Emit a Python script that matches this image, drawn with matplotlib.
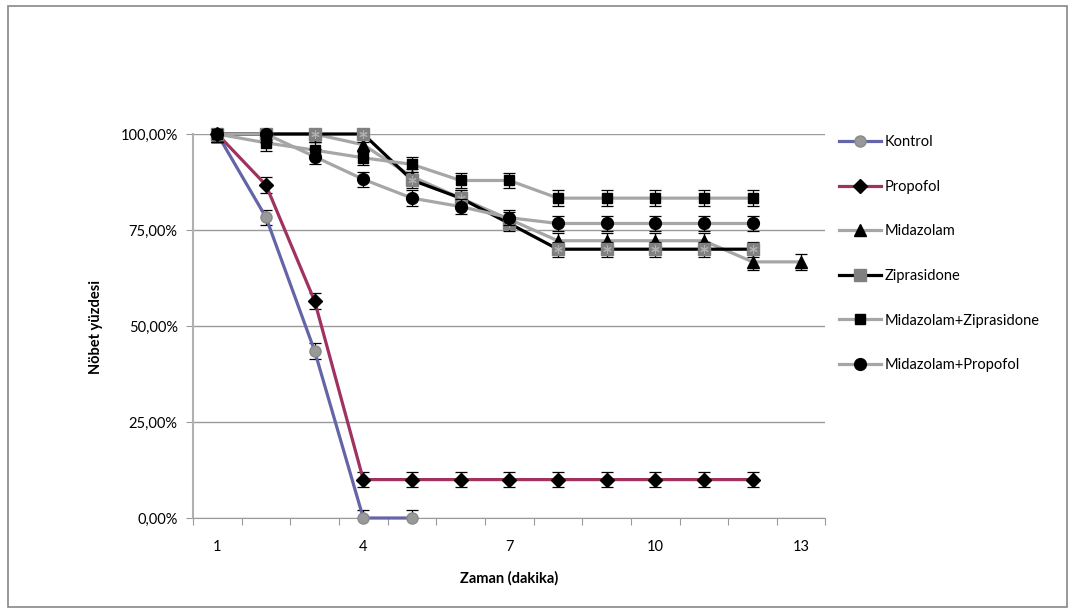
import numpy as np
import matplotlib
matplotlib.use('Agg')
import matplotlib.pyplot as plt
from matplotlib.patches import Rectangle

plt.rcParams['font.family'] = ['Lato', 'DejaVu Sans']

# time points (dakika)
minutes = np.arange(1, 14)

# seizure percentage per group
kontrol = [100, 78.3, 43.5, 0, 0]
propofol = [100, 86.7, 56.5, 10, 10, 10, 10, 10, 10, 10, 10, 10]
midazolam = [100, 100, 100, 97.2, 88.9, 83.3, 77.8, 72.2, 72.2, 72.2, 72.2, 66.7, 66.7]
ziprasidone = [100, 100, 100, 100, 88.0, 83.3, 76.7, 70, 70, 70, 70, 70]
mid_zip = [100, 97.7, 95.8, 93.8, 92.1, 87.9, 87.9, 83.3, 83.3, 83.3, 83.3, 83.3]
mid_prop = [100, 100, 94.1, 88.2, 83.3, 81.1, 78.2, 76.7, 76.7, 76.7, 76.7, 76.7]
err = 2.0

names = ["Kontrol", "Propofol", "Midazolam", "Ziprasidone",
         "Midazolam+Ziprasidone", "Midazolam+Propofol"]
y_ticks = [0, 25, 50, 75, 100]
y_ticklabels = ["0,00%", "25,00%", "50,00%", "75,00%", "100,00%"]
x_labels = [1, 4, 7, 10, 13]

fig = plt.figure(figsize=(10.75, 6.15), dpi=100)
ax = fig.add_axes([193 / 1075, 1 - 518 / 615, (825.5 - 193) / 1075, (518 - 134) / 615])

# outer chart border
fig.patches.append(Rectangle((8 / 1075, 1 - 607 / 615), 1059 / 1075, 601 / 615,
                             transform=fig.transFigure, fill=False,
                             edgecolor="#888888", lw=1.2))

styles = [
    dict(color="#6464A8", marker="o", mfc="#999999", mec="#8a8a8a", ms=8),
    dict(color="#A0325F", marker="D", mfc="black", mec="black", ms=7),
    dict(color="#A6A6A6", marker="^", mfc="black", mec="black", ms=8.5),
    dict(color="black", marker="s", mfc="#808080", mec="#808080", ms=8.5),
    dict(color="#A6A6A6", marker="s", mfc="black", mec="black", ms=7.5),
    dict(color="#A6A6A6", marker="o", mfc="black", mec="black", ms=8.5),
]
series = [kontrol, propofol, midazolam, ziprasidone, mid_zip, mid_prop]

handles = []
for i, (vals, st, name) in enumerate(zip(series, styles, names)):
    x = minutes[:len(vals)]
    ax.errorbar(x, vals, yerr=err, fmt="none", ecolor="black", elinewidth=0.9,
                capsize=4, capthick=0.9, zorder=3 + 2 * i)
    h, = ax.plot(x, vals, lw=2.3, label=name, zorder=4 + 2 * i, clip_on=False, **st)
    if name == "Ziprasidone":
        ax.plot(x, vals, ls="none", marker=(6, 2, 0), ms=6, mec="#b0b0b0",
                mew=0.8, zorder=4 + 2 * i, clip_on=False)
    handles.append(h)

ax.set_xlim(0.5, 13.5)
ax.set_ylim(0, 100)

ax.set_yticks(y_ticks)
ax.set_yticklabels(y_ticklabels)
ax.yaxis.grid(True, color="#9a9a9a", lw=1)
ax.set_axisbelow(True)

ax.set_xticks(np.arange(0.5, 14, 1))
ax.set_xticklabels([])
ax.set_xticks(x_labels, minor=True)
ax.set_xticklabels([str(v) for v in x_labels], minor=True)

ax.tick_params(axis="x", which="major", direction="out", length=5, color="#9a9a9a")
ax.tick_params(axis="x", which="minor", length=0, pad=16, labelsize=10.5)
ax.tick_params(axis="y", direction="out", length=5, color="#9a9a9a", pad=6, labelsize=10.5)

for s in ["top", "right"]:
    ax.spines[s].set_visible(False)
ax.spines["left"].set_color("#b0b0b0")
ax.spines["left"].set_linewidth(1.5)
ax.spines["bottom"].set_color("#9a9a9a")

fig.text(96 / 1075, 1 - 327 / 615, "Nöbet yüzdesi", rotation=90, ha="center",
         va="center", fontsize=10.5, fontweight="bold")
fig.text(509 / 1075, 1 - 578 / 615, "Zaman (dakika)", ha="center", va="center",
         fontsize=10.5, fontweight="bold")

ax.legend(handles=handles, loc="upper left", bbox_to_anchor=(839 / 1075, 1 - 135 / 615),
          bbox_transform=fig.transFigure, frameon=False, borderpad=0,
          borderaxespad=0, handlelength=2.9, handletextpad=0.2,
          labelspacing=2.1, fontsize=10.5)

fig.savefig("out.png", dpi=100)
